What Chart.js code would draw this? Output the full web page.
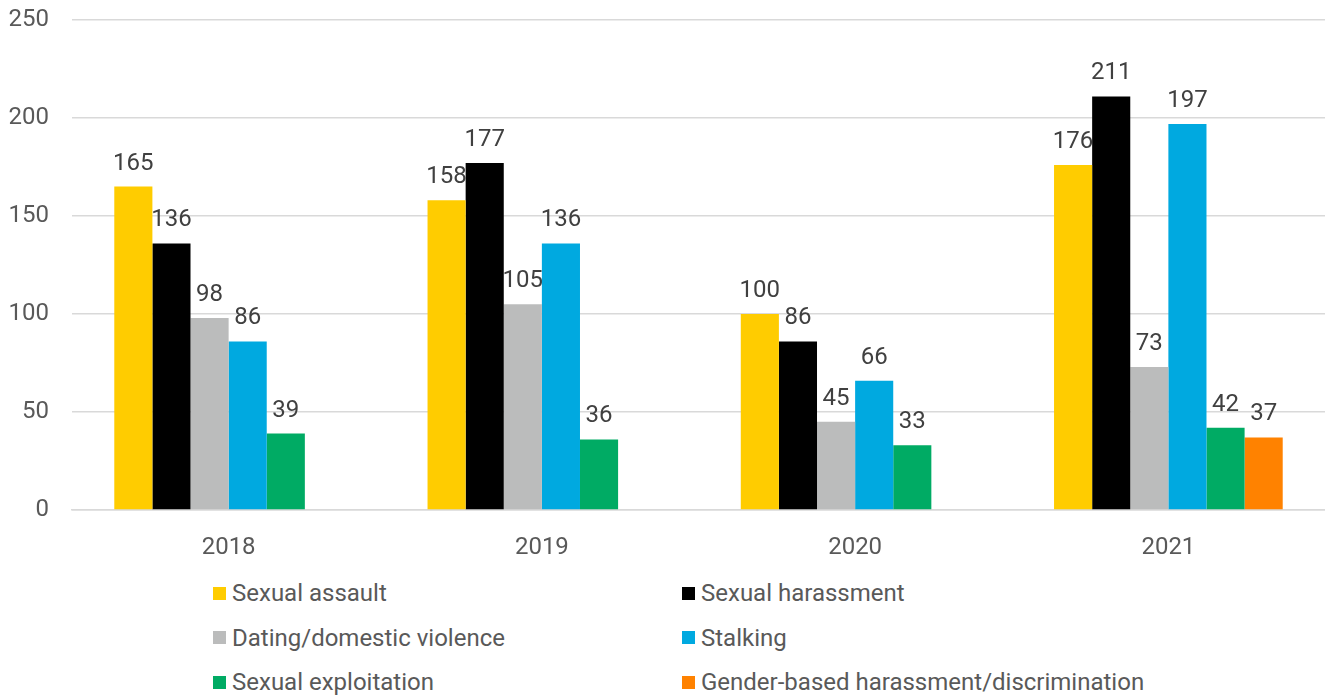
<!DOCTYPE html>
<html>
<head>
<meta charset="utf-8">
<script src="https://cdn.jsdelivr.net/npm/chart.js@4.4.1/dist/chart.umd.min.js"></script>
<style>
  html, body { margin: 0; padding: 0; background: #fff; }
  body { width: 1325px; height: 695px; position: relative; overflow: hidden; font-family: Roboto, sans-serif; }
  #wrap { position: absolute; left: 0; top: 0; width: 1325px; height: 560px; }
  #legend {
    position: absolute; left: 213px; top: 571px;
    display: grid; grid-template-columns: 469px auto;
    font-size: 24px; color: #595959;
  }
  .item { display: flex; align-items: center; height: 44.5px; }
  .box { width: 13px; height: 13px; margin-right: 6px; }
</style>
</head>
<body>
<div id="wrap"><canvas id="incidentChart"></canvas></div>
<div id="legend"></div>
<script>
const years = ['2018', '2019', '2020', '2021'];
const sexualAssault = [165, 158, 100, 176];
const sexualHarassment = [136, 177, 86, 211];
const datingViolence = [98, 105, 45, 73];
const stalking = [86, 136, 66, 197];
const sexualExploitation = [39, 36, 33, 42];
const genderBased = [null, null, null, 37];
const yTicks = [0, 50, 100, 150, 200, 250];

const series = [
  { label: 'Sexual assault', data: sexualAssault, color: '#FFCC00' },
  { label: 'Sexual harassment', data: sexualHarassment, color: '#000000' },
  { label: 'Dating/domestic violence', data: datingViolence, color: '#BBBCBC' },
  { label: 'Stalking', data: stalking, color: '#00A9E0' },
  { label: 'Sexual exploitation', data: sexualExploitation, color: '#00AB64' },
  { label: 'Gender-based harassment/discrimination', data: genderBased, color: '#FF8200' }
];

// value labels go under the bars so a taller neighbour can cover them
const valueLabels = {
  id: 'valueLabels',
  beforeDatasetsDraw(chart) {
    const c = chart.ctx;
    c.save();
    c.font = '24px Roboto';
    c.fillStyle = '#404040';
    c.textAlign = 'center';
    c.textBaseline = 'alphabetic';
    chart.data.datasets.forEach((ds, i) => {
      const meta = chart.getDatasetMeta(i);
      meta.data.forEach((bar, j) => {
        const v = ds.data[j];
        if (v === null) return;
        c.fillText(String(v), bar.x, chart.scales.y.getPixelForValue(v) - 17);
      });
    });
    c.restore();
  }
};

const ctx = document.getElementById('incidentChart').getContext('2d');

const chart = new Chart(ctx, {
  type: 'bar',
  data: {
    labels: years,
    datasets: series.map(s => ({
      label: s.label,
      data: s.data,
      backgroundColor: s.color,
      borderWidth: 0,
      categoryPercentage: 0.73,
      barPercentage: 1
    }))
  },
  options: {
    animation: false,
    responsive: true,
    maintainAspectRatio: false,
    layout: { padding: { top: 20, right: 0, left: 0, bottom: 0 } },
    plugins: {
      legend: { display: false },
      tooltip: { enabled: false }
    },
    scales: {
      x: {
        grid: { display: false },
        border: { display: true, color: '#d9d9d9', width: 1.5 },
        ticks: { color: '#595959', font: { family: 'Roboto', size: 24 }, padding: 16 },
        afterFit(scale) { scale.height = 50; }
      },
      y: {
        min: 0,
        max: 250,
        afterBuildTicks(scale) { scale.ticks = yTicks.map(v => ({ value: v })); },
        grid: { color: '#d9d9d9', lineWidth: 1.5, drawTicks: false },
        border: { display: false },
        ticks: { color: '#595959', font: { family: 'Roboto', size: 24 }, padding: 23 },
        afterFit(scale) {
          scale.width = 72;
          // tick padding is horizontal here; don't let it push the plot down
          scale.paddingTop = 0;
        }
      }
    }
  },
  plugins: [valueLabels]
});

// two-column legend under the plot
const legendEl = document.getElementById('legend');
series.forEach(s => {
  const item = document.createElement('div');
  item.className = 'item';
  const box = document.createElement('span');
  box.className = 'box';
  box.style.background = s.color;
  const text = document.createElement('span');
  text.textContent = s.label;
  item.appendChild(box);
  item.appendChild(text);
  legendEl.appendChild(item);
});
</script>
</body>
</html>
